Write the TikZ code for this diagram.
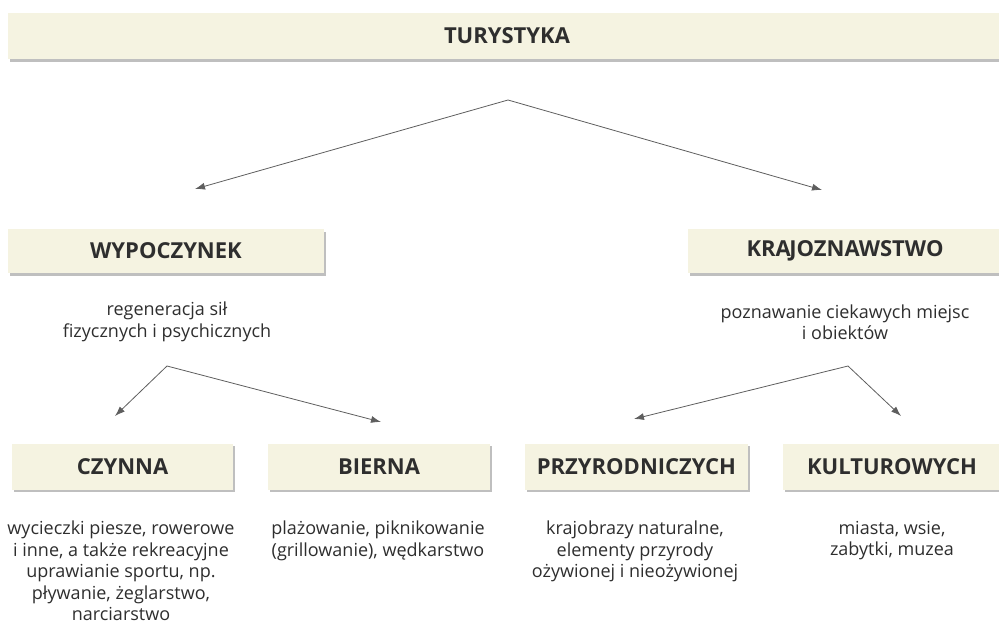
\documentclass[tikz,border=0pt]{standalone}
\usepackage{fontspec}
\setmainfont{Open Sans}
\usetikzlibrary{arrows.meta,shadows}
\definecolor{boxfill}{HTML}{F5F3E1}
\definecolor{txtcol}{HTML}{2E2E2E}
\definecolor{arrcol}{HTML}{5E5E5E}
\tikzset{
  headbox/.style={fill=boxfill, text=txtcol, inner sep=0pt, minimum height=46pt,
    font=\fontsize{22}{26}\selectfont\bfseries,
    drop shadow={shadow xshift=1.5pt, shadow yshift=-2.5pt, fill=black!50}},
  desc/.style={text=txtcol, align=center, inner sep=0pt,
    font=\fontsize{18}{21.5}\selectfont},
  link/.style={arrcol, line width=0.8pt, -{Latex[length=10pt,width=7pt]}}
}
\begin{document}
\begin{tikzpicture}[x=1pt,y=-1pt]
  \useasboundingbox (0,0) rectangle (999,621);

  % main headings
  \node[headbox, minimum width=998pt] (tur) at (507,36) {TURYSTYKA};
  \node[headbox, minimum width=316pt, minimum height=44pt] (wyp) at (166,251) {WYPOCZYNEK};
  \node[headbox, minimum width=314pt, minimum height=44pt] (kraj) at (845,251) {KRA\kern-1.5pt JOZNAWSTWO};

  \node[desc] (wypopis) at (167,322) {regeneracja sił\\fizycznych i psychicznych};
  \node[desc] (krajopis) at (845,322) {poznawanie ciekawych miejsc\\i obiektów};

  % second level
  \node[headbox, minimum width=221pt] (czy) at (122.5,466.5) {CZYNNA};
  \node[headbox, minimum width=222pt] (bie) at (379,466.5) {BIERNA};
  \node[headbox, minimum width=223pt] (prz) at (636.5,466.5) {PRZYRODNICZYCH};
  \node[headbox, minimum width=218pt] (kul) at (892,466.5) {KULTUROWYCH};

  \node[desc, anchor=north] (czyopis) at (121,521) {wycieczki piesze, rowerowe\\i inne, a także rekreacyjne\\uprawianie sportu, np.\\pływanie, żeglarstwo,\\narciarstwo};
  \node[desc, anchor=north] (bieopis) at (378,521) {plażowanie, piknikowanie\\(grillowanie), wędkarstwo};
  \node[desc, anchor=north] (przopis) at (635,521) {krajobrazy naturalne,\\elementy przyrody\\ożywionej i nieożywionej};
  \node[desc, anchor=north] (kulopis) at (892,521) {miasta, wsie,\\zabytki, muzea};

  % arrows
  \coordinate (a0) at (508,100);
  \coordinate (a0l) at (195,189);
  \coordinate (a0r) at (822,190);
  \draw[link] (a0) -- (a0l);
  \draw[link] (a0) -- (a0r);

  \coordinate (a1) at (167,366);
  \coordinate (a1l) at (115,416);
  \coordinate (a1r) at (381,422);
  \draw[link] (a1) -- (a1l);
  \draw[link] (a1) -- (a1r);

  \coordinate (a2) at (848,366);
  \coordinate (a2l) at (634,419);
  \coordinate (a2r) at (901,416);
  \draw[link] (a2) -- (a2l);
  \draw[link] (a2) -- (a2r);
\end{tikzpicture}
\end{document}
